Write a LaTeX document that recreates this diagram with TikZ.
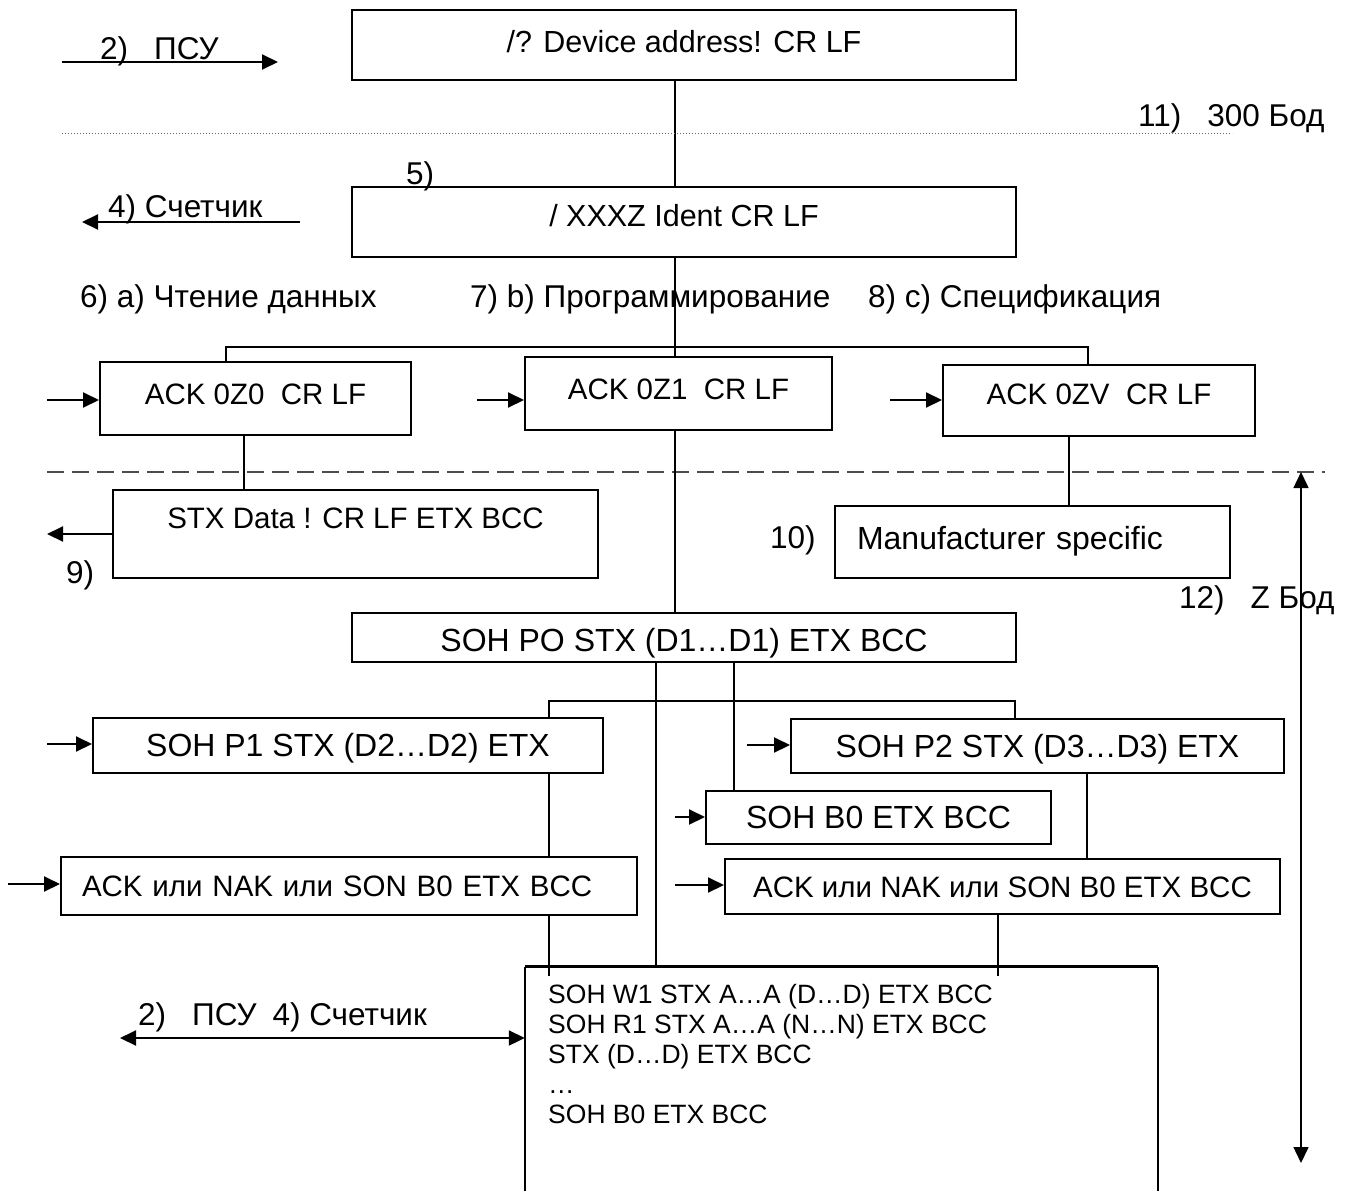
\documentclass[tikz,border=0pt]{standalone}
\usepackage{fontspec}
\setmainfont{Liberation Sans}
\usetikzlibrary{arrows.meta}
\usetikzlibrary{positioning}
\usetikzlibrary{calc}
\newcommand{\lblfont}{\fontsize{31.5}{36}\selectfont}
\newcommand{\ackfont}{\fontsize{29.5}{34}\selectfont}
\newcommand{\topfont}{\fontsize{30.5}{36}\selectfont}
\newcommand{\sohfont}{\fontsize{32}{38}\selectfont}
\newcommand{\listfont}{\fontsize{26.5}{30}\selectfont}

\begin{document}
\begin{tikzpicture}[x=1pt,y=-1pt,>={Triangle[length=16pt,width=15pt]}]
\tikzstyle{box}=[draw, line width=2pt, inner sep=0pt, font=\ackfont, text depth=0pt]
\tikzstyle{lbl}=[anchor=base west, inner sep=0pt, font=\lblfont]
\tikzstyle{link}=[line width=1.5pt]
\tikzstyle{msg}=[->, line width=2pt]
\useasboundingbox (0,0) rectangle (1351,1191);
% 300 baud part
\node[box, font=\topfont, minimum width=664pt, minimum height=70pt, text height=15.8pt] (dev) at (684,45) {/? Device address! CR LF};
\node[box, font=\topfont, minimum width=664pt, minimum height=70pt, text height=9.8pt] (ident) at (684,222) {/ XXXZ Ident CR LF};
\draw[link] ([xshift=-9pt]dev.south) -- ([xshift=-9pt]ident.north);
\draw[black!60, line width=1pt, dash pattern=on 1pt off 2pt] (62,133) -- (1232,133);
\node[lbl] (psu) at (100,59) {2)\hspace{26pt}ПСУ};
\coordinate (psuL) at (62,62);
\coordinate (psuR) at (278,62);
\draw[msg] (psuL) -- (psuR);
\node[lbl] (five) at (406,184) {5)};
\node[lbl] (meter) at (108,217) {4) Счетчик};
\coordinate (meterR) at (300,222);
\coordinate (meterL) at (82,222);
\draw[msg] (meterR) -- (meterL);
\node[lbl] (baud300) at (1138,126) {11)\hspace{26pt}300 Бод};
% modes
\node[lbl] (modeA) at (80,307) {6) a) Чтение данных};
\node[lbl] (modeB) at (470,307) {7) b) Программирование};
\node[lbl] (modeC) at (868,307) {8) c) Спецификация};
\node[box, minimum width=311pt, minimum height=73pt, text height=11.1pt] (ack0) at (255.5,398.5) {ACK 0Z0\ \ CR LF};
\node[box, minimum width=307pt, minimum height=73pt, text height=11.1pt] (ack1) at (678.5,393.5) {ACK 0Z1\ \ CR LF};
\node[box, minimum width=312pt, minimum height=71pt, text height=7.1pt] (ackv) at (1099,400.5) {ACK 0ZV\ \ CR LF};
\draw[link] ([xshift=-9pt]ident.south) -- ([xshift=-9pt]ident.south |- ack1.north);
\draw[link] ([xshift=-29.5pt]ack0.north) -- ++(0,-14) -| ([xshift=-11pt]ackv.north);
\coordinate (in0) at (47,400);
\coordinate (in1) at (477,400);
\coordinate (inV) at (890,400);
\draw[msg] (in0) -- (in0 -| ack0.west);
\draw[msg] (in1) -- (in1 -| ack1.west);
\draw[msg] (inV) -- (inV -| ackv.west);
% Z baud part
\draw[black!70, line width=2pt, dash pattern=on 17pt off 8pt] (47,472) -- (1325,472);
\node[box, minimum width=485pt, minimum height=88pt, text height=0pt, text depth=10.9pt] (stx) at (355.5,534) {STX Data ! CR LF ETX BCC};
\draw[link] ([xshift=-11.5pt]ack0.south) -- ([xshift=-11.5pt]ack0.south |- stx.north);
\coordinate (out9) at (47,534);
\draw[msg] (stx.west) -- (out9);
\node[lbl] (nine) at (66,583) {9)};
\node[box, font=\sohfont, minimum width=395pt, minimum height=72pt, inner xsep=22pt, text width=351pt, align=left, text height=14.9pt] (manuf) at (1032.5,542) {Manufacturer specific};
\draw[link] ([xshift=-30pt]ackv.south) -- ([xshift=-30pt]ackv.south |- manuf.north);
\node[lbl] (ten) at (770,548) {10)};
\node[lbl] (zbaud) at (1179,608) {12)\hspace{26pt}Z Бод};
\coordinate (zTop) at (1301,472);
\coordinate (zBot) at (1301,1163);
\draw[<->, line width=1.5pt] (zTop) -- (zBot);
% programming
\node[box, font=\sohfont, minimum width=664pt, minimum height=49pt, text height=27.9pt] (soh0) at (684,637.5) {SOH PO STX (D1…D1) ETX BCC};
\draw[link] ([xshift=-3.5pt]ack1.south) -- ([xshift=-3.5pt]ack1.south |- soh0.north);
\node[box, font=\sohfont, minimum width=510pt, minimum height=55pt, text height=22.9pt] (p1) at (348,745.5) {SOH P1 STX (D2…D2) ETX};
\node[box, font=\sohfont, minimum width=493pt, minimum height=54pt, text height=22.9pt] (p2) at (1037.5,746) {SOH P2 STX (D3…D3) ETX};
\node[box, font=\sohfont, minimum width=345pt, minimum height=53pt, text height=22.9pt] (b0) at (878.5,817.5) {SOH B0 ETX BCC};
\node[box, minimum width=576pt, minimum height=58pt, inner xsep=21pt, text width=534pt, align=left, text height=21.1pt] (nak1) at (349,886) {ACK или NAK или SON B0 ETX BCC};
\node[box, minimum width=555pt, minimum height=55pt, text height=21.1pt] (nak2) at (1002.5,886.5) {ACK или NAK или SON B0 ETX BCC};
\node[minimum width=633pt, minimum height=224pt, inner sep=0pt] (big) at (841.5,1079) {};
\draw[line width=1.5pt] (big.south west) -- (big.north west);
\draw[line width=1.5pt] (big.south east) -- (big.north east);
\draw[line width=3pt] (big.north west) -- (big.north east);
\node[anchor=north west, inner sep=0pt, font=\listfont, align=left] (listing) at (548,984) {SOH W1 STX A…A (D…D) ETX BCC\\SOH R1 STX A…A (N…N) ETX BCC\\STX (D…D) ETX BCC\\…\\SOH B0 ETX BCC};
\draw[link] ([xshift=201pt]p1.north) -- ++(0,-16) -| ([xshift=-22.5pt]p2.north);
\draw[link] ([xshift=201pt]p1.south) -- ([xshift=201pt]p1.south |- nak1.north);
\draw[link] ([xshift=200pt]nak1.south) -- ([xshift=200pt,yshift=-9pt]nak1.south |- big.north);
\draw[link] ([xshift=-28pt]soh0.south) -- ([xshift=-28pt]soh0.south |- big.north);
\draw[link] ([xshift=50pt]soh0.south) -- ([xshift=50pt]soh0.south |- b0.north);
\draw[link] ([xshift=49.5pt]p2.south) -- ([xshift=49.5pt]p2.south |- nak2.north);
\draw[link] ([xshift=-4.5pt]nak2.south) -- ([xshift=-4.5pt,yshift=-9pt]nak2.south |- big.north);
\coordinate (inP1) at (47,744);
\coordinate (inP2) at (747,745);
\coordinate (inB0) at (675,817);
\coordinate (inN1) at (8,884);
\coordinate (inN2) at (675,885);
\draw[msg] (inP1) -- (inP1 -| p1.west);
\draw[msg] (inP2) -- (inP2 -| p2.west);
\draw[msg] (inB0) -- (inB0 -| b0.west);
\draw[msg] (inN1) -- (inN1 -| nak1.west);
\draw[msg] (inN2) -- (inN2 -| nak2.west);
\node[lbl] (dual) at (138,1025) {2)\hspace{26pt}ПСУ\hspace{16pt}4) Счетчик};
\coordinate (dualL) at (120,1038);
\draw[<->, line width=2pt] (dualL) -- (dualL -| big.west);
\end{tikzpicture}
\end{document}
